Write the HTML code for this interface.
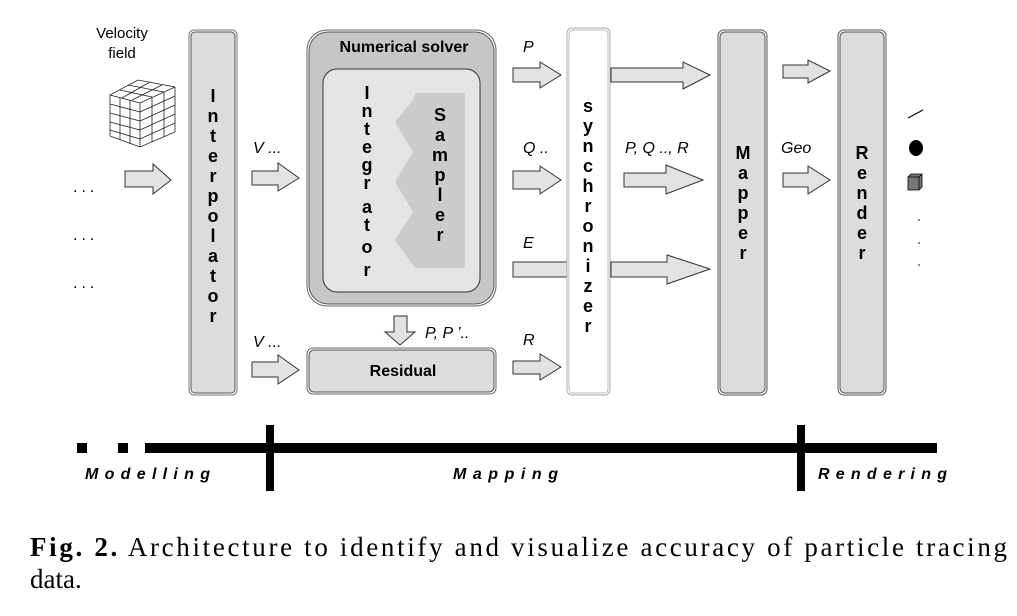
<!DOCTYPE html>
<html><head><meta charset="utf-8"><style>
html,body{margin:0;padding:0;background:#fff;}
svg{display:block;}
.b{font-family:"Liberation Sans",sans-serif;font-weight:bold;font-size:18px;fill:#000;text-anchor:middle;}
.i{font-family:"Liberation Sans",sans-serif;font-style:italic;font-size:16px;fill:#000;}
.ar{fill:#e2e2e2;stroke:#333;stroke-width:1;}
.bx{fill:#dcdcdc;stroke:#555;stroke-width:1;}
</style></head><body>
<svg width="1017" height="616" viewBox="0 0 1017 616" xmlns="http://www.w3.org/2000/svg">
<!-- velocity field -->
<text class="i" x="122" y="38" style="font-style:normal;font-size:15px" text-anchor="middle">Velocity</text>
<text class="i" x="122" y="58" style="font-style:normal;font-size:15px" text-anchor="middle">field</text>
<g stroke="#222" fill="#fff" stroke-width="0.8">
<polygon points="110,95 138,80 175,87 175,132 140,147 110,136"/>
<polyline points="110,95 140,103 175,87" fill="none"/>
<line x1="140" y1="103" x2="140" y2="147"/>
<line x1="110" y1="104" x2="140" y2="112"/><line x1="110" y1="113" x2="140" y2="121"/><line x1="110" y1="122" x2="140" y2="130"/><line x1="110" y1="130" x2="140" y2="139"/>
<line x1="140" y1="112" x2="175" y2="96"/><line x1="140" y1="121" x2="175" y2="105"/><line x1="140" y1="130" x2="175" y2="114"/><line x1="140" y1="139" x2="175" y2="123"/>
<line x1="120" y1="98" x2="120" y2="140"/><line x1="130" y1="100" x2="130" y2="144"/>
<line x1="152" y1="97" x2="152" y2="142"/><line x1="164" y1="92" x2="164" y2="137"/>
<line x1="120" y1="90" x2="152" y2="97"/><line x1="128" y1="85" x2="164" y2="92"/>
<line x1="150" y1="82" x2="122" y2="98"/><line x1="162" y1="85" x2="132" y2="100"/>
</g>
<!-- dots left -->
<text class="i" x="73" y="192" style="font-style:normal;letter-spacing:4px">...</text>
<text class="i" x="73" y="240" style="font-style:normal;letter-spacing:4px">...</text>
<text class="i" x="73" y="288" style="font-style:normal;letter-spacing:4px">...</text>
<!-- arrows -->
<polygon class="ar" points="125,171 153,171 153,164 171,180 153,194 153,187 125,187"/>
<polygon class="ar" points="252,171 278,171 278,163 299,178 278,191 278,185 252,185"/>
<polygon class="ar" points="252,362 278,362 278,355 299,370 278,384 278,377 252,377"/>
<text class="i" x="253" y="153">V ...</text>
<text class="i" x="253" y="347">V ...</text>
<!-- interpolator -->
<rect x="189" y="30" width="48" height="365" rx="5" fill="#fff" stroke="#777"/>
<rect x="191" y="32" width="44" height="361" rx="4" class="bx"/>
<g class="b">
<text x="213" y="102">I</text><text x="213" y="122">n</text><text x="213" y="142">t</text><text x="213" y="162">e</text><text x="213" y="182">r</text><text x="213" y="202">p</text><text x="213" y="222">o</text><text x="213" y="242">l</text><text x="213" y="262">a</text><text x="213" y="282">t</text><text x="213" y="302">o</text><text x="213" y="322">r</text>
</g>
<!-- numerical solver -->
<rect x="307" y="30" width="189" height="276" rx="20" fill="#fff" stroke="#666"/>
<rect x="309" y="32" width="185" height="272" rx="19" fill="#c6c6c6" stroke="#555"/>
<text class="b" x="404" y="52" style="font-size:16px">Numerical solver</text>
<rect x="323" y="69" width="157" height="223" rx="14" fill="#e4e4e4" stroke="#333"/>
<polygon points="415,93 465,93 465,268 415,268 395,240 413,212 395,182 413,152 395,122 413,100" fill="#cbcbcb"/>
<g class="b">
<text x="367" y="99">I</text><text x="367" y="117">n</text><text x="367" y="135">t</text><text x="367" y="153">e</text><text x="367" y="171">g</text><text x="367" y="189">r</text><text x="367" y="213">a</text><text x="367" y="231">t</text><text x="367" y="253">o</text><text x="367" y="276">r</text>
<text x="440" y="121">S</text><text x="440" y="141">a</text><text x="440" y="161">m</text><text x="440" y="181">p</text><text x="440" y="201">l</text><text x="440" y="221">e</text><text x="440" y="241">r</text>
</g>
<!-- residual -->
<polygon class="ar" points="394,316 407,316 407,332 415,332 400,345 385,332 394,332"/>
<text class="i" x="425" y="338">P, P ’..</text>
<rect x="307" y="348" width="189" height="46" rx="6" fill="#fff" stroke="#666"/>
<rect x="309" y="350" width="185" height="42" rx="5" class="bx"/>
<text class="b" x="403" y="376" style="font-size:16px">Residual</text>
<!-- synchronizer inputs -->
<polygon class="ar" points="513,68 540,68 540,62 561,75 540,88 540,82 513,82"/>
<polygon class="ar" points="513,171 540,171 540,166 561,180 540,194 540,189 513,189"/>
<rect x="513" y="262" width="55" height="15" class="ar"/>
<polygon class="ar" points="513,361 540,361 540,354 561,367 540,380 540,374 513,374"/>
<text class="i" x="523" y="52">P</text>
<text class="i" x="523" y="153">Q ..</text>
<text class="i" x="523" y="248">E</text>
<text class="i" x="523" y="345">R</text>
<!-- synchronizer -->
<rect x="567" y="28" width="43" height="367" rx="5" fill="#fff" stroke="#aaa"/>
<rect x="569" y="30" width="39" height="363" rx="4" fill="#fff" stroke="#bbb"/>
<g class="b">
<text x="588" y="112">s</text><text x="588" y="132">y</text><text x="588" y="152">n</text><text x="588" y="172">c</text><text x="588" y="192">h</text><text x="588" y="212">r</text><text x="588" y="232">o</text><text x="588" y="252">n</text><text x="588" y="272">i</text><text x="588" y="292">z</text><text x="588" y="312">e</text><text x="588" y="332">r</text>
</g>
<!-- sync outputs -->
<polygon class="ar" points="611,68 683,68 683,62 710,75 683,89 683,82 611,82"/>
<polygon class="ar" points="624,173 666,173 666,165 703,180 666,194 666,187 624,187"/>
<polygon class="ar" points="611,262 667,262 667,255 710,269 667,284 667,277 611,277"/>
<text class="i" x="625" y="153">P, Q .., R</text>
<!-- mapper -->
<rect x="718" y="30" width="49" height="365" rx="6" fill="#fff" stroke="#555"/>
<rect x="720" y="32" width="45" height="361" rx="5" class="bx"/>
<g class="b">
<text x="743" y="159">M</text><text x="743" y="179">a</text><text x="743" y="199">p</text><text x="743" y="219">p</text><text x="743" y="239">e</text><text x="743" y="259">r</text>
</g>
<polygon class="ar" points="783,65 808,65 808,60 830,71 808,83 808,78 783,78"/>
<polygon class="ar" points="783,173 808,173 808,166 830,180 808,194 808,187 783,187"/>
<text class="i" x="781" y="153">Geo</text>
<!-- render -->
<rect x="838" y="30" width="48" height="365" rx="6" fill="#fff" stroke="#555"/>
<rect x="840" y="32" width="44" height="361" rx="5" class="bx"/>
<g class="b">
<text x="862" y="159">R</text><text x="862" y="179">e</text><text x="862" y="199">n</text><text x="862" y="219">d</text><text x="862" y="239">e</text><text x="862" y="259">r</text>
</g>
<!-- outputs icons -->
<line x1="908" y1="118" x2="923" y2="110" stroke="#000" stroke-width="1"/>
<ellipse cx="916" cy="148" rx="7" ry="8" fill="#000"/>
<polygon points="908,177 911,174 922,174 922,187 919,190 908,190" fill="#777" stroke="#000" stroke-width="0.8"/>
<polyline points="908,177 919,177 922,174" fill="none" stroke="#000" stroke-width="0.8"/>
<line x1="919" y1="177" x2="919" y2="190" stroke="#000" stroke-width="0.8"/>
<circle cx="919" cy="220" r="0.8" fill="#000"/><circle cx="919" cy="243" r="0.8" fill="#000"/><circle cx="919" cy="265" r="0.8" fill="#000"/>
<!-- timeline -->
<rect x="77" y="443" width="10" height="10" fill="#000"/>
<rect x="118" y="443" width="10" height="10" fill="#000"/>
<rect x="145" y="443" width="792" height="10" fill="#000"/>
<rect x="266" y="425" width="8" height="66" fill="#000"/>
<rect x="797" y="425" width="8" height="66" fill="#000"/>
<g font-family="Liberation Sans,sans-serif" font-weight="bold" font-style="italic" font-size="16" letter-spacing="3">
<text x="85" y="479" textLength="128" lengthAdjust="spacing">Modelling</text>
<text x="453" y="479" textLength="108" lengthAdjust="spacing">Mapping</text>
<text x="818" y="479" textLength="132" lengthAdjust="spacing">Rendering</text>
</g>
<!-- caption -->
<g font-family="Liberation Serif,serif" font-size="27" fill="#000">
<text x="30" y="556" textLength="977" lengthAdjust="spacing"><tspan font-weight="bold">Fig. 2.</tspan> Architecture to identify and visualize accuracy of particle tracing</text>
<text x="30" y="588">data.</text>
</g>
</svg>
</body></html>
